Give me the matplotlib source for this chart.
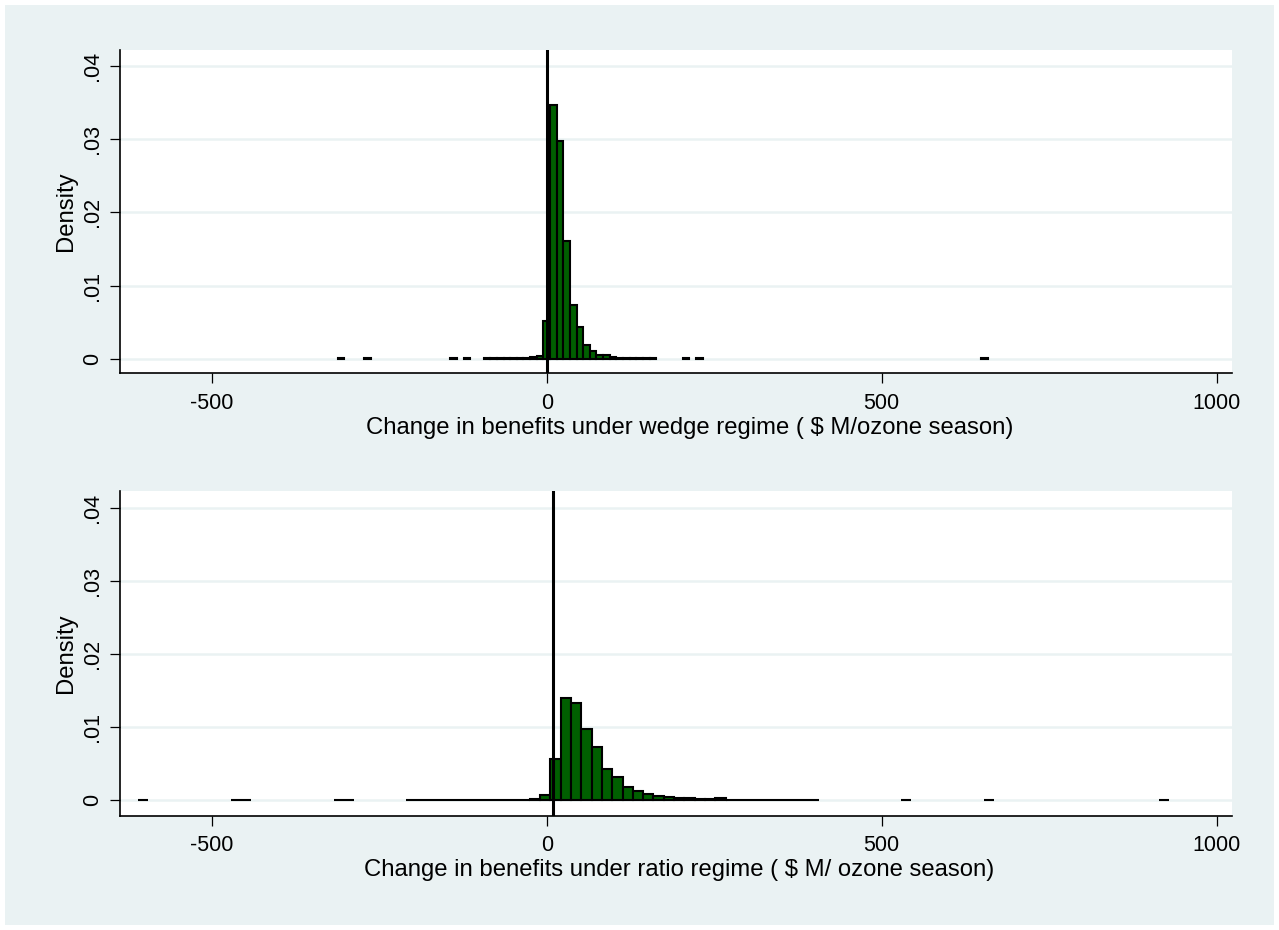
import matplotlib
matplotlib.use("Agg")
import matplotlib.pyplot as plt
from matplotlib.patches import Rectangle

plt.rcParams['font.family'] = ['Liberation Sans', 'DejaVu Sans']
plt.rcParams['axes.unicode_minus'] = False

TINY = 3e-5

# ---- top panel: wedge regime ----
top_width = 9.9
top_centers = [-307.0, -267.4, -138.7, -118.9,
               -89.2, -79.3, -69.4, -59.5, -49.6, -39.7, -29.8,
               -19.9, -10.0, 0.0, 9.9, 19.8, 29.7, 39.6, 49.5, 59.4, 69.3,
               79.2, 89.1, 99.0, 108.9, 118.8,
               128.7, 138.6, 148.5, 158.4,
               207.9, 227.7, 653.4]
top_density = [TINY, TINY, TINY, TINY,
               TINY, TINY, TINY, TINY, TINY, TINY, TINY,
               0.0002, 0.0003, 0.0052, 0.0347, 0.0297, 0.0161, 0.0073, 0.0043, 0.0019, 0.0011,
               0.0005, 0.00045, 0.0002, 0.00012, 0.0001,
               TINY, TINY, TINY, TINY,
               TINY, TINY, TINY]
top_vline = 0.5
top_xlabel = "Change in benefits under wedge regime ( \\$ M/ozone season)"

# ---- bottom panel: ratio regime ----
bot_width = 15.4
bot_centers = [-602.9, -464.3, -448.9, -310.3, -294.9,
               -202.5, -187.1, -171.7, -156.3, -140.9, -125.5, -110.1, -94.7, -79.3, -63.9, -48.5, -33.1,
               -17.7, -2.3, 13.1, 28.5, 43.9, 59.3, 74.7, 90.1, 105.5, 120.9, 136.3, 151.7,
               167.1, 182.5, 197.9, 213.3, 228.7, 244.1, 259.5,
               274.9, 290.3, 305.7, 321.1, 336.5, 351.9, 367.3, 382.7, 398.1,
               536.7, 659.9, 921.7]
bot_density = [TINY, TINY, TINY, TINY, TINY,
               TINY, TINY, TINY, TINY, TINY, TINY, TINY, TINY, TINY, TINY, TINY, TINY,
               0.0001, 0.0007, 0.0056, 0.0139, 0.0133, 0.0097, 0.0073, 0.00425, 0.0031, 0.0018, 0.00127, 0.0008,
               0.0005, 0.00037, 0.00027, 0.0002, 0.00014, 0.0001, 0.00023,
               TINY, TINY, TINY, TINY, TINY, TINY, TINY, TINY, TINY,
               TINY, TINY, TINY]
bot_vline = 8.7
bot_xlabel = "Change in benefits under ratio regime ( \\$ M/ ozone season)"

x_ticks = [-500, 0, 500, 1000]
x_ticklabels = ["-500", "0", "500", "1000"]
y_ticks = [0, 0.01, 0.02, 0.03, 0.04]
y_ticklabels = ["0", ".01", ".02", ".03", ".04"]

W, H = 1279, 930
BG = '#EAF2F3'
BAR = '#005f00'
FS_TICK = 15.5
FS_LABEL = 17.2

fig = plt.figure(figsize=(W / 100, H / 100), dpi=100)
fig.patch.set_facecolor('white')
fig.add_artist(Rectangle((5 / W, 5 / H), (W - 10) / W, (H - 10) / H,
                         transform=fig.transFigure, facecolor=BG,
                         edgecolor='none', zorder=-10))


def panel(rect, centers, density, width, vline, xlabel, ylim, xlab_x):
    ax = fig.add_axes(rect)
    ax.set_facecolor('white')
    ax.bar(centers, density, width=width, color=BAR, edgecolor='black',
           linewidth=1.5, zorder=3)
    ax.axvline(vline, color='black', linewidth=2.2, zorder=4)
    ax.set_xlim(-637, 1023)
    ax.set_ylim(*ylim)
    ax.set_xticks(x_ticks)
    ax.set_xticklabels(x_ticklabels, fontsize=FS_TICK)
    ax.set_yticks(y_ticks)
    ax.set_yticklabels(y_ticklabels, fontsize=FS_TICK, rotation=90, va='center')
    ax.grid(axis='y', color=BG, linewidth=1.8, zorder=0)
    ax.set_axisbelow(True)
    for s in ['top', 'right']:
        ax.spines[s].set_visible(False)
    for s in ['left', 'bottom']:
        ax.spines[s].set_color('black')
        ax.spines[s].set_linewidth(1.2)
    ax.tick_params(axis='x', length=7, width=0.9, color='black', pad=7)
    ax.tick_params(axis='y', length=7, width=0.9, color='black', pad=5)
    ax.set_xlabel(xlabel, fontsize=FS_LABEL, labelpad=2)
    ax.xaxis.label.set_x(xlab_x)
    ax.set_ylabel("Density", fontsize=FS_LABEL, labelpad=4)
    return ax


panel([120 / W, (H - 373.3) / H, 1112 / W, 323.3 / H],
      top_centers, top_density, top_width, top_vline, top_xlabel, (-0.002, 0.0422), 0.512)
panel([120 / W, (H - 816) / H, 1112 / W, 325 / H],
      bot_centers, bot_density, bot_width, bot_vline, bot_xlabel, (-0.0022, 0.0423), 0.503)

fig.savefig("out.png", dpi=100, facecolor=fig.get_facecolor())
